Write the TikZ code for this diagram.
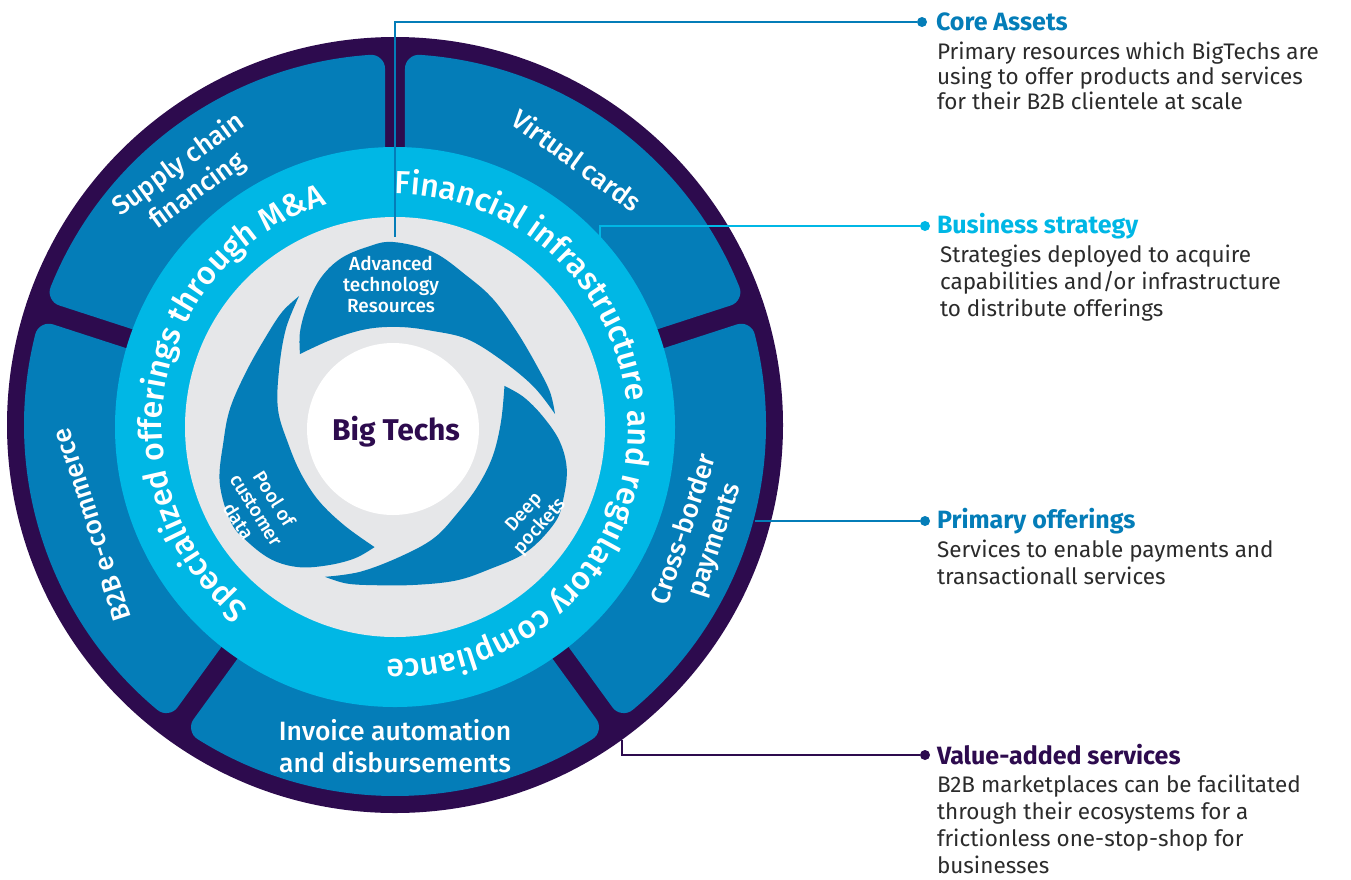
\documentclass[tikz,border=0pt]{standalone}
\usepackage{fontspec}
\setmainfont{Fira Sans}
\newfontfamily\medfont{Fira Sans Medium}
\usetikzlibrary{decorations.text}
\definecolor{ringpurple}{HTML}{2D0B4E}
\definecolor{segblue}{HTML}{047DB8}
\definecolor{ringcyan}{HTML}{00B7E5}
\definecolor{swirlgray}{HTML}{E6E7E9}
\definecolor{desctext}{HTML}{2B2B2B}

\begin{document}
\begin{tikzpicture}[x=1pt,y=1pt,inner sep=0pt,outer sep=0pt,
segment/.style={fill=segblue,draw=segblue,line width=28pt,line join=round},
blob/.style={fill=segblue},
segtext/.style={text=white,align=center,font=\medfont\fontsize{26.5}{32}\selectfont},
blobtext/.style={text=white,align=center,font=\medfont\fontsize{19}{21}\selectfont},
dot/.style={circle,fill=#1,minimum size=10pt},
head/.style={anchor=west,font=\bfseries\fontsize{25}{25}\selectfont},
desc/.style={anchor=north west,align=left,text=desctext,font=\fontsize{22.5}{25}\selectfont},
link/.style={line width=2pt}]
\useasboundingbox (0,0) rectangle (1351,-879);
\coordinate (co) at (395,-425);
\coordinate (cc) at (395,-427);
\coordinate (ci) at (393,-429);

\fill[ringpurple] (co) circle[radius=388];
\draw[segment] ([shift={(21.85:357)}]co) arc[start angle=21.85,end angle=86.15,radius=357] -- ([shift={(84.5:250)}]co) arc[start angle=84.5,end angle=23.5,radius=250] -- cycle;
\draw[segment] ([shift={(93.85:357)}]co) arc[start angle=93.85,end angle=158.15,radius=357] -- ([shift={(156.5:250)}]co) arc[start angle=156.5,end angle=95.5,radius=250] -- cycle;
\draw[segment] ([shift={(165.85:357)}]co) arc[start angle=165.85,end angle=230.15,radius=357] -- ([shift={(228.5:250)}]co) arc[start angle=228.5,end angle=167.5,radius=250] -- cycle;
\draw[segment] ([shift={(237.85:357)}]co) arc[start angle=237.85,end angle=302.15,radius=357] -- ([shift={(300.5:250)}]co) arc[start angle=300.5,end angle=239.5,radius=250] -- cycle;
\draw[segment] ([shift={(309.85:357)}]co) arc[start angle=309.85,end angle=374.15,radius=357] -- ([shift={(372.5:250)}]co) arc[start angle=372.5,end angle=311.5,radius=250] -- cycle;

\fill[ringcyan] (cc) circle[radius=280];
\fill[swirlgray] (cc) circle[radius=210];
\foreach \r in {0,120,-120}
\fill[blob,shift={(ci)},rotate=\r] plot[smooth,tension=0.6] coordinates {(-93,75) (-93,97) (-86,123) (-73,150) (-53,170) (-26,182) (0,187) (40,177) (74,153) (100,130) (124,97) (144,63) (157,37) (162,15)}
 -- plot[smooth,tension=0.6] coordinates {(162,15) (140,43) (107,70) (74,90) (40,98) (7,102) (-26,100) (-60,90) (-93,75)} -- cycle;
\fill[white] (ci) circle[radius=86];

\path[decorate,decoration={text along path,text align=center,
 text={|\medfont\fontsize{32}{32}\selectfont\color{white}|Specialized offerings through M{\&}A}}]
 ([shift={(245:233)}]cc) arc[start angle=245,end angle=93,radius=233];
\path[decorate,decoration={text along path,text align=center,
 text={|\medfont\fontsize{32}{32}\selectfont\color{white}|Financial infrastructure and regulatory compliance}}]
 ([shift={(103:233)}]cc) arc[start angle=103,end angle=-105,radius=233];

\node[font=\bfseries\fontsize{30}{30}\selectfont,text=ringpurple] (bigtechs) at (396,-432) {Big Techs};
\node[blobtext] (advtech) at (391,-284) {Advanced\\technology\\Resources};
\node[blobtext,rotate=-58] (pool) at (257,-510) {Pool of\\customer\\data};
\node[blobtext,rotate=48] (deep) at (533,-520) {Deep\\pockets};

\node[segtext,rotate=36] (supply) at (188,-178) {Supply chain\\financing};
\node[segtext,rotate=-36] (virtual) at (577,-160) {Virtual cards};
\node[segtext,rotate=72] (cross) at (700,-535) {Cross-border\\payments};
\node[segtext,rotate=108] (btob) at (92,-525) {B2B e-commerce};
\node[segtext] (invoice) at (395,-746) {Invoice automation\\and disbursements};

\node[dot=segblue] (coredot) at (922,-22) {};
\node[head,text=segblue] (corehead) at (936,-22) {Core Assets};
\node[desc] (coredesc) at (937,-42) {Primary resources which BigTechs are\\using to offer products and services\\for their B2B clientele at scale};
\node[dot=ringcyan] (bizdot) at (925,-226) {};
\node[head,text=ringcyan] (bizhead) at (937,-226) {Business strategy};
\node[desc,font=\fontsize{22.5}{27}\selectfont] (bizdesc) at (940,-245) {Strategies deployed to acquire\\capabilities and/or infrastructure\\to distribute offerings};
\node[dot=segblue] (primdot) at (925,-521) {};
\node[head,text=segblue] (primhead) at (937,-521) {Primary offerings};
\node[desc,font=\fontsize{22.5}{27}\selectfont] (primdesc) at (937,-540) {Services to enable payments and\\transactionall services};
\node[dot=ringpurple] (valdot) at (925,-755) {};
\node[head,text=ringpurple] (valhead) at (937,-755) {Value-added services};
\node[desc,font=\fontsize{22.5}{27}\selectfont] (valdesc) at (937,-775) {B2B marketplaces can be facilitated\\through their ecosystems for a\\frictionless one-stop-shop for\\businesses};

\coordinate (coreend) at (395,-237);
\coordinate (bizend) at (600,-240);
\coordinate (primend) at (755,-521);
\coordinate (valend) at (622,-740);
\draw[link,segblue] (coredot) -| (coreend);
\draw[link,ringcyan] (bizdot) -| (bizend);
\draw[link,segblue] (primdot) -- (primend);
\draw[link,ringpurple] (valdot) -| (valend);
\end{tikzpicture}
\end{document}
